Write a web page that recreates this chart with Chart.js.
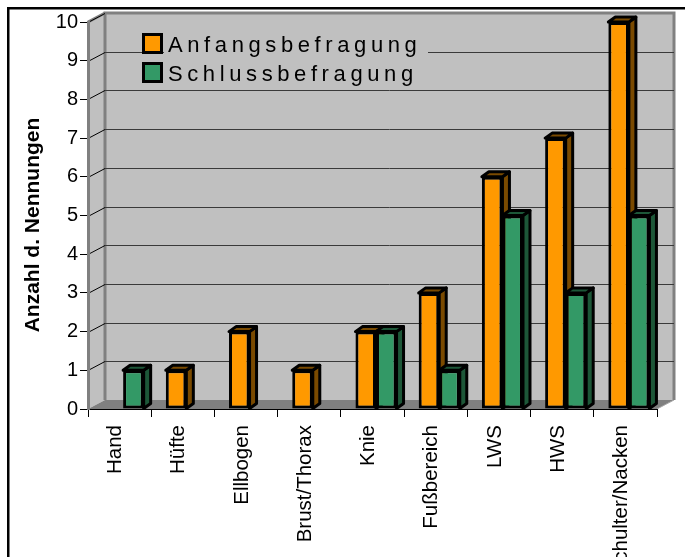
<!DOCTYPE html>
<html>
<head>
<meta charset="utf-8">
<script src="https://cdn.jsdelivr.net/npm/chart.js@4"></script>
<style>
  html, body { margin: 0; padding: 0; background: #fff; }
  canvas { display: block; }
</style>
</head>
<body>
<canvas id="c" width="685" height="557"></canvas>
<script>
// Body regions and how often each was named, first and final survey
const categories = ['Hand', 'Hüfte', 'Ellbogen', 'Brust/Thorax', 'Knie', 'Fußbereich', 'LWS', 'HWS', 'Schulter/Nacken'];
const anfangsbefragung = [0, 1, 2, 1, 2, 3, 6, 7, 10];
const schlussbefragung = [1, 0, 0, 0, 2, 1, 5, 3, 5];
const seriesNames = ['Anfangsbefragung', 'Schlussbefragung'];
const yTicks = [0, 1, 2, 3, 4, 5, 6, 7, 8, 9, 10];
const axisTitle = 'Anzahl d. Nennungen';

const FONT = '"Liberation Sans", Arial, Helvetica, sans-serif';
const frontColors = ['#ff9900', '#339966'];
const shadeColors = ['#7a4a00', '#1d5738'];
const WALL = { dx: 17, dy: -9 };      // depth of the back wall
const BAR_DEPTH = { dx: 7, dy: -5 };  // depth of each column
const BAR_SHIFT = 3.5;                // columns stand a little right of the category centre

function poly(ctx, pts) {
  ctx.beginPath();
  ctx.moveTo(pts[0][0], pts[0][1]);
  for (let i = 1; i < pts.length; i++) ctx.lineTo(pts[i][0], pts[i][1]);
  ctx.closePath();
}

// Walls, floor and gridlines of the 3D box
const room = {
  id: 'room',
  beforeDraw(chart) {
    const { ctx, chartArea: { left: L, right: R, top: T, bottom: B }, scales: { y } } = chart;
    const { dx, dy } = WALL;
    ctx.save();
    ctx.fillStyle = '#fff';
    ctx.fillRect(0, 0, chart.width, chart.height);
    // outer frame
    ctx.fillStyle = '#000';
    ctx.fillRect(7, 7, chart.width, 2.5);
    ctx.fillRect(7, 7, 2.5, chart.height);

    // back wall
    ctx.fillStyle = '#c0c0c0';
    ctx.fillRect(L + dx, T + dy, R - L, B - T);
    // side wall
    poly(ctx, [[L, T], [L + dx, T + dy], [L + dx, B + dy], [L, B]]);
    ctx.fill();
    // floor
    ctx.fillStyle = '#808080';
    poly(ctx, [[L, B], [L + dx, B + dy], [R + dx, B + dy], [R, B]]);
    ctx.fill();
    ctx.strokeStyle = '#a8a8a8';
    ctx.lineWidth = 1;
    ctx.beginPath();
    ctx.moveTo(R, B); ctx.lineTo(R + dx, B + dy);
    ctx.stroke();

    // wall edges
    ctx.strokeStyle = '#808080';
    ctx.lineWidth = 3;
    ctx.beginPath();
    ctx.moveTo(L + dx, B + dy);
    ctx.lineTo(L + dx, T + dy);
    ctx.lineTo(R + dx, T + dy);
    ctx.lineTo(R + dx, B + dy);
    ctx.stroke();
    ctx.beginPath();
    ctx.moveTo(L, T); ctx.lineTo(L + dx, T + dy);
    ctx.stroke();

    // gridlines on the back wall and their runs across the side wall
    ctx.lineWidth = 1;
    yTicks.forEach(v => {
      const py = Math.round(y.getPixelForValue(v)) + 0.5;
      if (v > 0 && v < 10) {
        ctx.strokeStyle = '#3a3a3a';
        ctx.beginPath();
        ctx.moveTo(L + dx, py + dy);
        ctx.lineTo(R + dx, py + dy);
        ctx.stroke();
      }
      if (v > 0) {
        ctx.strokeStyle = '#000';
        ctx.beginPath();
        ctx.moveTo(L, py);
        ctx.lineTo(L + dx, py + dy);
        ctx.stroke();
      }
    });
    ctx.restore();
  },
  // tops and sides of the columns, drawn behind their front faces
  beforeDatasetsDraw(chart) {
    const ctx = chart.ctx;
    const { dx, dy } = BAR_DEPTH;
    ctx.save();
    ctx.translate(BAR_SHIFT, 0);
    ctx.save();
    ctx.lineWidth = 3;
    ctx.lineJoin = 'round';
    ctx.strokeStyle = '#000';
    chart.data.datasets.forEach((ds, di) => {
      const meta = chart.getDatasetMeta(di);
      meta.data.forEach((bar, i) => {
        if (!ds.data[i]) return;
        const { x, y, base, width } = bar.getProps(['x', 'y', 'base', 'width'], true);
        const x1 = x - width / 2, x2 = x + width / 2;
        ctx.fillStyle = shadeColors[di];
        poly(ctx, [[x2, y], [x2 + dx, y + dy], [x2 + dx, base + dy], [x2, base]]);
        ctx.fill(); ctx.stroke();
        poly(ctx, [[x1, y], [x1 + dx, y + dy], [x2 + dx, y + dy], [x2, y]]);
        ctx.fill(); ctx.stroke();
      });
    });
    ctx.restore();
  },
  afterDatasetsDraw(chart) {
    chart.ctx.restore();
  },
  // legend box and the value-axis title
  afterDraw(chart) {
    const ctx = chart.ctx;
    ctx.save();
    ctx.fillStyle = '#c0c0c0';
    ctx.fillRect(164, 26, 264, 60);
    ctx.font = '22px ' + FONT;
    ctx.textBaseline = 'alphabetic';
    ctx.textAlign = 'left';
    if ('letterSpacing' in ctx) ctx.letterSpacing = '4.6px';
    seriesNames.forEach((name, i) => {
      const top = 33 + i * 29;
      ctx.fillStyle = '#000';
      ctx.fillRect(142, top, 21, 21);
      ctx.fillStyle = frontColors[i];
      ctx.fillRect(145, top + 3, 15, 15);
      ctx.fillStyle = '#000';
      ctx.fillText(name, 168, top + 19);
    });
    if ('letterSpacing' in ctx) ctx.letterSpacing = '0px';
    ctx.translate(33, 225);
    ctx.rotate(-Math.PI / 2);
    ctx.font = 'bold 21px ' + FONT;
    ctx.textAlign = 'center';
    ctx.textBaseline = 'middle';
    ctx.fillStyle = '#000';
    ctx.fillText(axisTitle, 0, 0);
    ctx.restore();
  }
};

new Chart(document.getElementById('c'), {
  type: 'bar',
  data: {
    labels: categories,
    datasets: [
      { label: seriesNames[0], data: anfangsbefragung, backgroundColor: frontColors[0],
        borderColor: '#000', borderWidth: 3, borderSkipped: false },
      { label: seriesNames[1], data: schlussbefragung, backgroundColor: frontColors[1],
        borderColor: '#000', borderWidth: 3, borderSkipped: false }
    ]
  },
  options: {
    responsive: false,
    animation: false,
    events: [],
    layout: { padding: { left: 10, top: 22, right: 28, bottom: 0 } },
    datasets: { bar: { categoryPercentage: 0.65, barPercentage: 1.0 } },
    plugins: { legend: { display: false }, tooltip: { enabled: false } },
    scales: {
      x: {
        offset: true,
        grid: { offset: true, drawOnChartArea: false, tickLength: 8, color: '#000', lineWidth: 1 },
        border: { color: '#000', width: 1 },
        ticks: {
          autoSkip: false, minRotation: 90, maxRotation: 90, padding: 8,
          color: '#000', font: { family: FONT, size: 20.5 }, labelOffset: -4
        },
        afterFit(s) { s.height = 148; }
      },
      y: {
        min: 0, max: 10,
        afterBuildTicks(s) { s.ticks = yTicks.map(v => ({ value: v })); },
        grid: { drawOnChartArea: false, tickLength: 8, color: '#000', lineWidth: 1 },
        border: { color: '#808080', width: 3 },
        ticks: { padding: 2, color: '#000', font: { family: FONT, size: 20 } },
        afterFit(s) { s.width = 78; }
      }
    }
  },
  plugins: [room]
});
</script>
</body>
</html>
